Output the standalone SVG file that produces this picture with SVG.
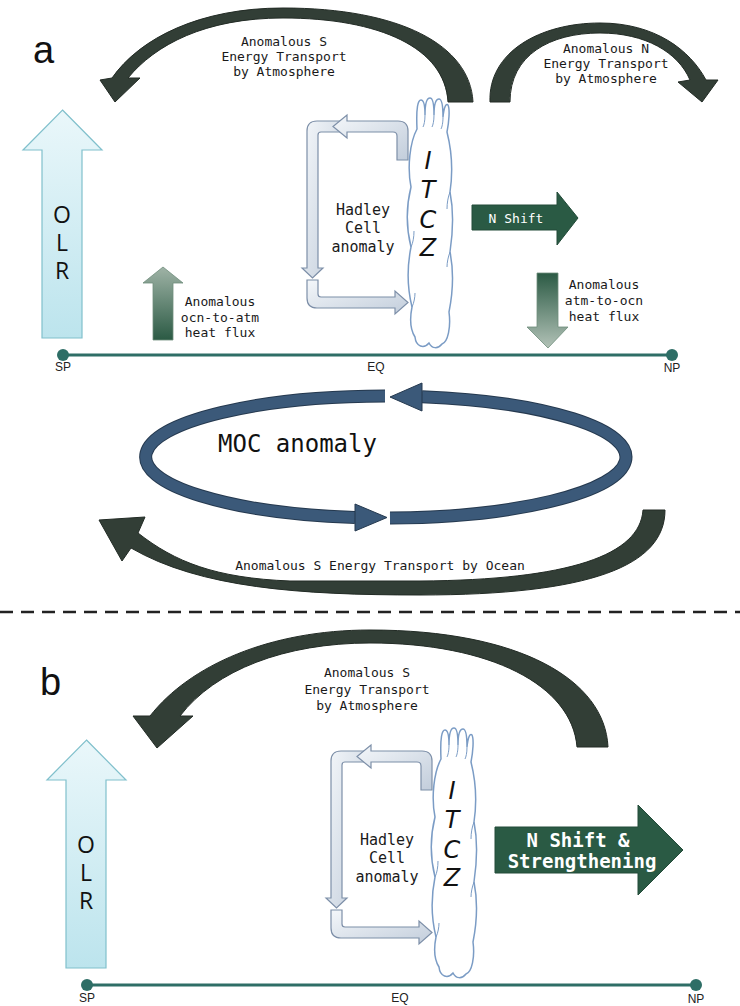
<svg xmlns="http://www.w3.org/2000/svg" width="740" height="1006" viewBox="0 0 740 1006">
<style>
.lbl{font-family:"DejaVu Sans Mono","Liberation Mono",monospace;font-size:13px;fill:#1a1a1a;text-anchor:middle}
.hlbl{font-family:"DejaVu Sans Mono","Liberation Mono",monospace;font-size:15px;fill:#1a1a1a;text-anchor:middle}
.atm{fill:#323e36;stroke:#222b25;stroke-width:1}
.had{fill:url(#gHad);stroke:#7d8fa8;stroke-width:1.2}
.cloud{fill:#fff;stroke:#7b9cc5;stroke-width:1.5}
.cloudin{fill:none;stroke:#7b9cc5;stroke-width:1}
.olr{fill:url(#gOlr);stroke:#80c0cc;stroke-width:1.2}
.olrt{font-family:"Open Sans","DejaVu Sans",sans-serif;font-size:23px;fill:#111;text-anchor:middle}
.itcz{font-family:"DejaVu Sans",sans-serif;font-style:italic;font-size:24px;fill:#111;text-anchor:middle}
.axis{stroke:#2e6e66;stroke-width:3}
.dot{fill:#2e6e66}
.pole{font-family:"Liberation Sans Narrow","Liberation Sans",sans-serif;font-size:12px;fill:#222;text-anchor:middle}
.shift{fill:#2a5a44;stroke:#224a38;stroke-width:1}
.shiftt{font-family:"DejaVu Sans Mono","Liberation Mono",monospace;fill:#fff;text-anchor:middle}
.panel{font-family:"Liberation Sans",Arial,sans-serif;font-size:38px;fill:#111}
.moc{fill:none;stroke:#3b5979;stroke-width:11}
.mocedge{fill:none;stroke:#25394f;stroke-width:13}
.moch{fill:#3b5979;stroke:#25394f;stroke-width:1}
</style>
<defs>
<linearGradient id="gHad" x1="0" y1="0" x2="1" y2="1">
<stop offset="0" stop-color="#f4f7fa"/><stop offset="1" stop-color="#c2cddb"/>
</linearGradient>
<linearGradient id="gOlr" x1="0" y1="0" x2="0" y2="1">
<stop offset="0" stop-color="#eaf7fa"/><stop offset="1" stop-color="#bce4ed"/>
</linearGradient>
<linearGradient id="gUp" x1="0" y1="0" x2="0" y2="1">
<stop offset="0" stop-color="#9fb3a6"/><stop offset="1" stop-color="#2b5a44"/>
</linearGradient>
<linearGradient id="gDown" x1="0" y1="0" x2="0" y2="1">
<stop offset="0" stop-color="#2b5a44"/><stop offset="1" stop-color="#b2c2b7"/>
</linearGradient>
<g id="cloudShape">
<path class="cloud" d="M13,32 C12,10 14,3 17,3 C20,3 21,10 21,18 C21,6 23,1 26,1 C29,1 30,8 30,18 C30,6 32,2 35,2 C38,2 39,9 39,20 C40,10 42,6 44,8 C46,12 45,25 43,35 C48,55 49,75 46,95 C50,115 49,135 46,155 C50,175 49,195 45,215 C47,230 44,245 38,247 C34,252 28,252 25,246 C20,252 12,250 11,240 C6,232 6,220 8,210 C3,190 3,170 7,150 C2,130 2,110 7,90 C3,70 6,45 13,32 Z"/>
<path class="cloudin" d="M21,18 C21,24 20,28 19,30 M30,18 C30,24 29,28 28,30 M39,20 C39,26 38,30 37,32 M7,150 C9,146 10,140 10,134 M46,95 C44,100 43,106 43,112 M8,210 C10,206 11,200 11,196 M46,155 C44,160 43,166 43,170"/>
</g>
<g id="hadleyShape">
<path class="had" d="M340,121 L317,121 Q307,121 307,131 L307,268 L302,268 L312.5,278 L323,268 L318,268 L318,135 Q318,132 321,132 L340,132 Z"/>
<path class="had" d="M397,160 L397,136 Q397,132 393,132 L347,132 L347,138 L333,126.5 L347,115 L347,121 L398,121 Q408,121 408,131 L408,160 Z"/>
<path class="had" d="M307,280 L318,280 L318,294 Q318,297 321,297 L395,297 L395,291 L408,302.5 L395,314 L395,308 L317,308 Q307,308 307,298 Z"/>
</g>
<g id="olrShape">
<polygon class="olr" points="62.5,110 102,150 82,150 82,338 42,338 42,150 23,150"/>
<text class="olrt" x="62" y="223">O</text>
<text class="olrt" x="62" y="251">L</text>
<text class="olrt" x="62" y="279">R</text>
</g>
<g id="itczText">
<text class="itcz" x="428" y="169">I</text>
<text class="itcz" x="428" y="198">T</text>
<text class="itcz" x="428" y="228">C</text>
<text class="itcz" x="428" y="256">Z</text>
</g>
<g id="hadleyText">
<text class="hlbl" x="363" y="215">Hadley</text>
<text class="hlbl" x="363" y="233">Cell</text>
<text class="hlbl" x="363" y="252">anomaly</text>
</g>
<g id="axisShape">
<line class="axis" x1="63" y1="355" x2="672" y2="355"/>
<circle class="dot" cx="63" cy="355" r="6"/>
<circle class="dot" cx="672" cy="355" r="6"/>
</g>
</defs>

<!-- Panel a -->
<text class="panel" x="33" y="63">a</text>

<g id="connectors">
<g id="atm-s-a">
<path class="atm" d="M473,102 C470,45 400,8 283,8 C200,8 140,38 112,78 L100,80 L115,102 L140,78 L128,78 C155,45 205,18 283,18 C380,18 445,48 448,102 Z"/>
</g>
<g id="atm-n-a">
<path class="atm" d="M490,102 C488,52 540,23 600,23 C655,23 690,50 706,80 L718,80 L702,102 L678,82 L690,80 C678,52 645,33 600,33 C550,33 510,55 510,102 Z"/>
</g>
<g id="ocean-s-a">
<path class="atm" d="M665,510 C665,566 590,595 420,595 C300,595 200,588 131,548 L122,561 L99,520 L145,517 L138,533 C175,562 215,578 290,581 L420,581 C570,580 640,555 643,510 Z"/>
</g>
<g id="moc-a">
<path class="mocedge" d="M422,396.7 A240 61 0 0 1 390,518"/>
<path class="mocedge" d="M355,517.5 A240 61 0 0 1 385,396"/>
<path class="moc" d="M422,396.7 A240 61 0 0 1 390,518"/>
<path class="moc" d="M355,517.5 A240 61 0 0 1 385,396"/>
<polygon class="moch" points="390,397 422,383 422,411"/>
<polygon class="moch" points="387,517.5 355,504 355,531"/>
</g>
<g id="atm-s-b">
<path class="atm" d="M608,747 C605,680 520,630 370,630 C270,630 190,665 150,716 L133,716 L157,748 L193,716 L180,716 C215,670 285,643 370,643 C490,643 572,685 577,747 Z"/>
</g>
</g>

<g id="lbl-atm-s-a">
<text class="lbl" x="284" y="46">Anomalous S</text>
<text class="lbl" x="284" y="61">Energy Transport</text>
<text class="lbl" x="284" y="76">by Atmosphere</text>
</g>
<g id="lbl-atm-n-a">
<text class="lbl" x="606" y="53">Anomalous N</text>
<text class="lbl" x="606" y="68">Energy Transport</text>
<text class="lbl" x="606" y="83">by Atmosphere</text>
</g>

<g id="olr-a"><use href="#olrShape"/></g>

<g id="itcz-a">
<use href="#cloudShape" transform="translate(404,97)"/>
<use href="#itczText"/>
</g>
<g id="hadley-a">
<use href="#hadleyShape"/>
<use href="#hadleyText"/>
</g>

<g id="nshift-a">
<polygon class="shift" points="472,205 557,205 557,192 578,218 557,245 557,230 472,230"/>
<text class="shiftt" x="516" y="223" font-size="13">N Shift</text>
</g>

<g id="flux-up-a">
<polygon points="163,267 183,283 173,283 173,340 153,340 153,283 143,283" fill="url(#gUp)" stroke="#6f8d7b" stroke-width="0.8"/>
<text class="lbl" x="220" y="306">Anomalous</text>
<text class="lbl" x="220" y="322">ocn-to-atm</text>
<text class="lbl" x="220" y="337">heat flux</text>
</g>
<g id="flux-down-a">
<polygon points="537,273 558,273 558,327 568,327 548,348 527,327 537,327" fill="url(#gDown)" stroke="#6f8d7b" stroke-width="0.8"/>
<text class="lbl" x="604" y="289">Anomalous</text>
<text class="lbl" x="604" y="305">atm-to-ocn</text>
<text class="lbl" x="604" y="321">heat flux</text>
</g>

<g id="axis-a">
<use href="#axisShape"/>
<text class="pole" x="63" y="371">SP</text>
<text class="pole" x="376" y="371">EQ</text>
<text class="pole" x="672" y="372">NP</text>
</g>

<g id="moc-label">
<text x="218" y="452" font-family="DejaVu Sans Mono, Liberation Mono, monospace" font-size="24" fill="#111">MOC anomaly</text>
</g>
<g id="lbl-ocean-a">
<text class="lbl" x="380" y="570">Anomalous S Energy Transport by Ocean</text>
</g>

<g id="divider">
<line x1="0" y1="612" x2="740" y2="612" stroke="#222" stroke-width="2.5" stroke-dasharray="13 8"/>
</g>

<!-- Panel b -->
<text class="panel" x="40" y="695">b</text>

<g id="lbl-atm-s-b">
<text class="lbl" x="367" y="677">Anomalous S</text>
<text class="lbl" x="367" y="694">Energy Transport</text>
<text class="lbl" x="367" y="710">by Atmosphere</text>
</g>

<g id="olr-b" transform="translate(24,630)"><use href="#olrShape"/></g>

<g id="itcz-b" transform="translate(24,630)">
<use href="#cloudShape" transform="translate(404,97)"/>
<use href="#itczText"/>
</g>
<g id="hadley-b" transform="translate(24,630)">
<use href="#hadleyShape"/>
<use href="#hadleyText"/>
</g>

<g id="nshift-b">
<polygon class="shift" points="495,827 638,827 638,805 683,850 638,895 638,873 495,873"/>
<text class="shiftt" x="578" y="847" font-size="19" font-weight="bold">N Shift &amp;</text>
<text class="shiftt" x="582" y="868" font-size="19" font-weight="bold">Strengthening</text>
</g>

<g id="axis-b">
<use href="#axisShape" transform="translate(24,630)"/>
<text class="pole" x="87" y="1002">SP</text>
<text class="pole" x="400" y="1002">EQ</text>
<text class="pole" x="696" y="1003">NP</text>
</g>
</svg>
